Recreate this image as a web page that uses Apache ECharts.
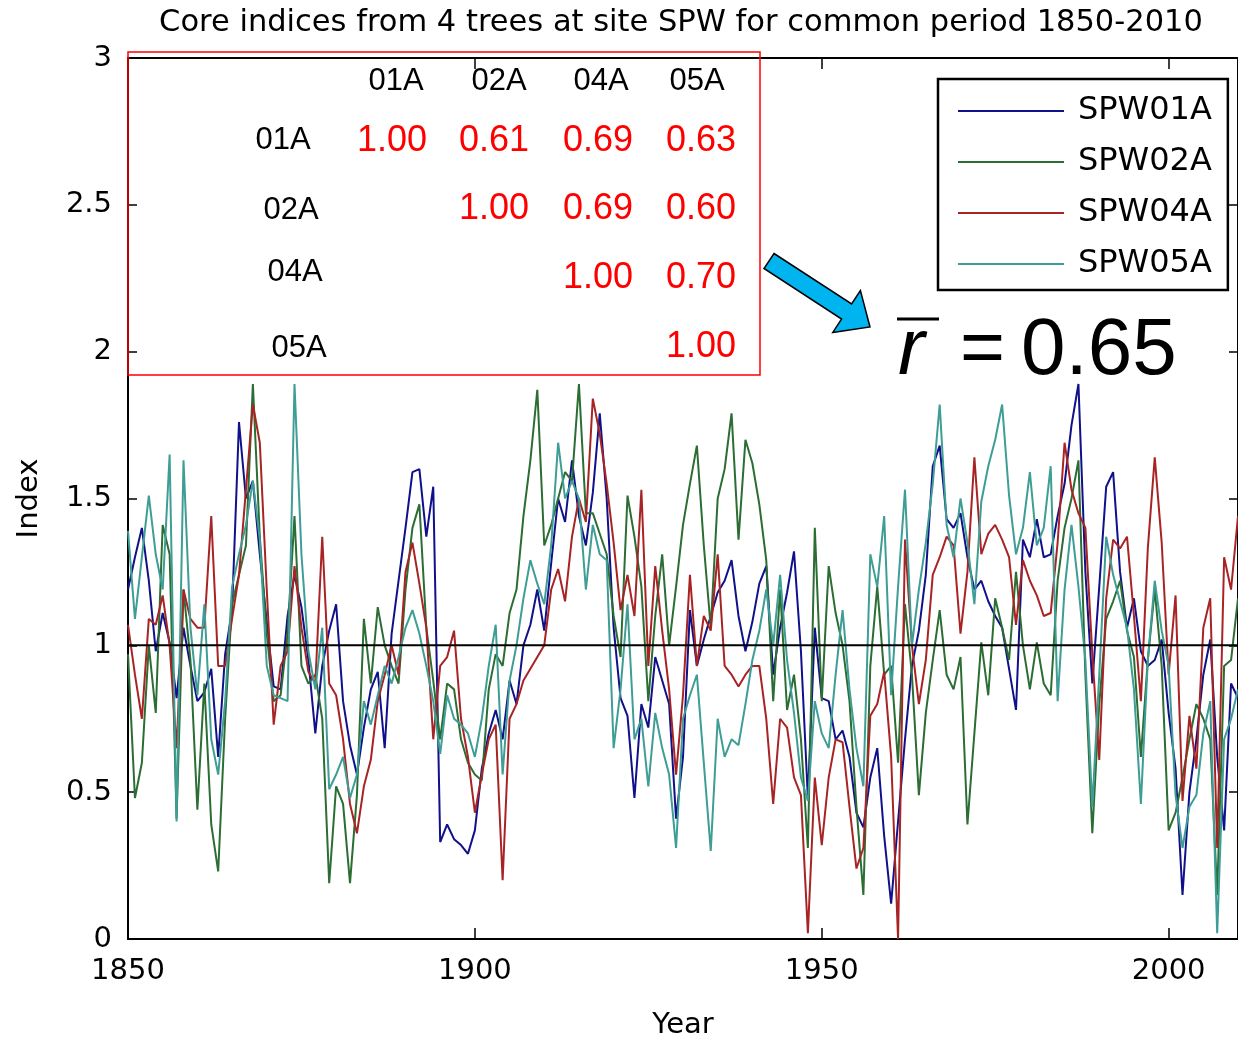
<!DOCTYPE html>
<html>
<head>
<meta charset="utf-8">
<script src="https://cdn.jsdelivr.net/npm/echarts@6/dist/echarts.min.js"></script>
<style>
  html, body { margin: 0; padding: 0; background: #ffffff; }
  #chart { width: 1238px; height: 1045px; }
</style>
</head>
<body>
<div id="chart"></div>
<script>
// Ring-width core indices, one value per year from 1850 to 2010
const firstYear = 1850;
const lastYear = 2010;
const seriesNames = ['SPW01A', 'SPW02A', 'SPW04A', 'SPW05A'];

const spw01a = [
  1.19, 1.30, 1.40, 1.22, 0.98, 1.11, 1.01, 0.82, 1.06, 0.93,
  0.81, 0.84, 0.92, 0.62, 0.97, 1.12, 1.76, 1.50, 1.56, 1.31,
  1.08, 0.86, 0.85, 1.10, 1.24, 1.13, 0.95, 0.70, 0.93, 1.05,
  1.14, 0.81, 0.66, 0.56, 0.72, 0.85, 0.91, 0.65, 1.04, 1.22,
  1.40, 1.59, 1.60, 1.37, 1.54, 0.33, 0.39, 0.34, 0.32, 0.29,
  0.37, 0.58, 0.70, 0.78, 0.68, 0.88, 0.80, 1.00, 1.07, 1.19,
  1.05, 1.28, 1.50, 1.42, 1.63, 1.44, 1.34, 1.52, 1.79, 1.50,
  1.06, 0.82, 0.76, 0.48, 0.80, 0.72, 0.96, 0.88, 0.80, 0.41,
  0.62, 1.12, 0.93, 1.02, 1.10, 1.18, 1.22, 1.29, 1.10, 0.98,
  1.08, 1.21, 1.27, 0.90, 1.06, 1.18, 1.32, 0.98, 0.48, 1.06,
  0.82, 0.81, 0.68, 0.71, 0.62, 0.43, 0.38, 0.55, 0.65, 0.35,
  0.12, 0.40, 0.68, 0.93, 1.05, 1.24, 1.61, 1.68, 1.43, 1.40,
  1.45, 1.30, 1.19, 1.22, 1.15, 1.10, 1.06, 0.92, 0.78, 1.36,
  1.30, 1.43, 1.30, 1.31, 1.44, 1.55, 1.75, 1.89, 1.25, 0.87,
  1.20, 1.54, 1.59, 1.25, 1.06, 1.16, 0.98, 0.93, 0.95, 1.02,
  0.77, 0.58, 0.15, 0.50, 0.68, 0.90, 1.02, 0.62, 0.37, 0.87,
  0.82
];

const spw02a = [
  0.97, 0.48, 0.60, 1.00, 0.77, 1.41, 1.31, 0.41, 1.19, 0.95,
  0.44, 0.87, 0.39, 0.23, 0.75, 1.14, 1.24, 1.34, 1.89, 1.37,
  1.04, 0.81, 0.83, 1.04, 1.44, 0.93, 0.87, 0.90, 0.75, 0.19,
  0.52, 0.46, 0.19, 0.49, 1.09, 0.87, 1.13, 1.00, 0.93, 0.87,
  1.19, 1.40, 1.48, 1.06, 0.88, 0.68, 0.87, 0.85, 0.68, 0.60,
  0.56, 0.54, 0.85, 0.97, 0.93, 1.11, 1.19, 1.44, 1.63, 1.87,
  1.34, 1.41, 1.50, 1.59, 1.56, 1.89, 1.45, 1.45, 1.38, 1.31,
  1.10, 0.96, 1.51, 1.37, 1.20, 0.81, 1.10, 1.31, 1.00, 1.20,
  1.41, 1.55, 1.68, 1.34, 1.06, 1.50, 1.60, 1.79, 1.36, 1.70,
  1.62, 1.48, 1.29, 0.81, 1.19, 0.78, 0.90, 0.68, 0.31, 1.40,
  0.81, 1.27, 1.11, 1.00, 0.81, 0.45, 0.15, 0.93, 1.20, 0.90,
  0.93, 0.60, 1.14, 0.90, 0.49, 0.77, 0.95, 1.12, 0.90, 0.85,
  0.96, 0.39, 0.70, 1.01, 0.83, 1.16, 1.06, 0.95, 1.25, 1.00,
  0.85, 1.01, 0.87, 0.83, 1.22, 1.40, 1.50, 1.63, 0.90, 0.36,
  0.80, 1.09, 1.15, 1.22, 1.05, 0.96, 0.62, 0.95, 1.19, 0.93,
  0.37, 0.43, 0.55, 0.68, 0.80, 0.75, 0.68, 0.15, 0.93, 0.95,
  1.16
];

const spw04a = [
  1.07, 0.90, 0.75, 1.09, 1.07, 1.17, 1.00, 0.65, 1.19, 1.09,
  1.06, 1.06, 1.44, 0.93, 0.93, 1.09, 1.24, 1.53, 1.82, 1.69,
  1.19, 0.73, 0.93, 0.98, 1.27, 1.06, 0.91, 0.87, 1.37, 0.87,
  0.83, 0.68, 0.46, 0.36, 0.52, 0.61, 0.81, 0.90, 1.00, 0.90,
  1.25, 1.35, 1.21, 1.06, 0.68, 0.93, 0.96, 1.05, 0.75, 0.62,
  0.43, 0.56, 0.68, 0.73, 0.20, 0.75, 0.80, 0.88, 0.92, 0.96,
  1.00, 1.19, 1.26, 1.15, 1.37, 1.50, 1.42, 1.84, 1.72, 1.55,
  1.35, 1.12, 1.24, 1.10, 1.53, 0.93, 1.27, 1.05, 0.85, 0.56,
  0.83, 1.24, 0.93, 1.10, 1.05, 1.31, 0.93, 0.90, 0.86, 0.90,
  0.93, 0.93, 0.75, 0.46, 0.75, 0.72, 0.55, 0.49, 0.02, 0.55,
  0.32, 0.55, 0.68, 0.67, 0.45, 0.24, 0.31, 0.76, 0.80, 0.91,
  0.62, 0.00, 1.36, 1.00, 0.80, 0.95, 1.24, 1.30, 1.37, 1.34,
  1.04, 1.25, 1.64, 1.31, 1.38, 1.41, 1.36, 1.30, 1.07, 1.29,
  1.22, 1.17, 1.10, 1.11, 1.35, 1.69, 1.53, 1.45, 1.40, 0.97,
  0.61, 1.16, 1.36, 1.33, 1.37, 1.10, 0.81, 1.33, 1.64, 1.35,
  0.90, 1.17, 0.47, 0.76, 0.58, 1.06, 1.16, 0.31, 1.30, 1.19,
  1.44
];

const spw05a = [
  1.39, 1.09, 1.30, 1.51, 1.31, 1.19, 1.65, 0.40, 1.63, 1.06,
  0.83, 1.14, 0.68, 0.56, 0.81, 1.20, 1.31, 1.41, 1.56, 1.36,
  0.93, 0.83, 0.82, 0.81, 1.89, 1.31, 0.98, 0.85, 1.06, 0.51,
  0.56, 0.62, 0.48, 0.56, 0.81, 0.73, 0.83, 0.93, 0.87, 0.96,
  1.06, 1.12, 1.04, 0.93, 0.81, 0.63, 0.83, 0.75, 0.73, 0.70,
  0.62, 0.75, 0.93, 1.07, 0.56, 0.88, 1.00, 1.16, 1.29, 1.21,
  1.14, 1.34, 1.69, 1.50, 1.56, 1.50, 1.19, 1.41, 1.31, 1.29,
  0.65, 0.85, 1.14, 0.68, 0.75, 0.52, 0.77, 0.65, 0.56, 0.31,
  0.75, 0.83, 0.90, 0.60, 0.30, 0.75, 0.62, 0.68, 0.66, 0.80,
  0.95, 1.05, 1.19, 1.00, 1.24, 0.95, 0.77, 0.55, 0.47, 0.81,
  0.70, 0.65, 0.90, 1.12, 0.85, 0.65, 0.52, 1.31, 1.20, 1.44,
  0.83, 1.20, 1.53, 1.00, 1.19, 1.35, 1.55, 1.82, 1.41, 1.30,
  1.50, 1.35, 1.14, 1.49, 1.61, 1.70, 1.82, 1.51, 1.31, 1.40,
  1.59, 1.34, 1.40, 1.61, 0.81, 1.19, 1.41, 1.20, 0.95, 0.45,
  0.90, 1.37, 1.24, 1.15, 1.06, 0.85, 0.46, 0.95, 1.22, 1.05,
  0.93, 0.49, 0.31, 0.45, 0.49, 0.70, 0.81, 0.02, 0.68, 0.75,
  0.85
];

// Axis ticks
const yearTickStep = 50;
const indexMin = 0, indexMax = 3, indexTickStep = 0.5;
const referenceIndex = 1;

// Inter-core correlation matrix (upper triangle) and its mean
const coreIds = ['01A', '02A', '04A', '05A'];
const corrRows = [
  [1.00, 0.61, 0.69, 0.63],
  [1.00, 0.69, 0.60],
  [1.00, 0.70],
  [1.00]
];
const meanR = 0.65;

const titleText = 'Core indices from 4 trees at site SPW for common period 1850-2010';

const lineColors = ['#10108a', '#2b6d33', '#a82424', '#3e9d95'];
const seriesValues = [spw01a, spw02a, spw04a, spw05a];

const years = [];
for (let y = firstYear; y <= lastYear; y++) years.push(y);

const tickFont = 'DejaVu Sans';

const lineSeries = seriesNames.map((name, i) => ({
  name: name,
  type: 'line',
  xAxisIndex: 0,
  yAxisIndex: 0,
  symbol: 'none',
  showSymbol: false,
  clip: true,
  data: years.map((yr, k) => [yr, seriesValues[i][k]]),
  lineStyle: { color: lineColors[i], width: 2 },
  itemStyle: { color: lineColors[i] },
  z: 2 + i
}));

lineSeries.push({
  name: 'reference',
  type: 'line',
  symbol: 'none',
  silent: true,
  data: [[firstYear, referenceIndex], [lastYear, referenceIndex]],
  lineStyle: { color: '#000000', width: 2 },
  z: 10
});

// Correlation table drawn as text inside a red frame
const tableGraphics = [];
tableGraphics.push({
  type: 'rect',
  shape: { x: 128, y: 52, width: 632, height: 323 },
  style: { fill: 'none', stroke: '#ff0000', lineWidth: 1.5 },
  z: 100
});
const headerX = [396, 499, 601, 697];
const valueX = [392, 494, 598, 701];
const rowLabelX = [283, 291, 295, 299];
const rowLabelY = [139, 209, 271, 347];
const rowValueY = [140, 208, 277, 346];
coreIds.forEach((id, c) => {
  tableGraphics.push({
    type: 'text', z: 100,
    style: { text: id, x: headerX[c], y: 81, align: 'center', verticalAlign: 'middle',
             fontFamily: 'Liberation Sans', fontSize: 31, fill: '#000000' }
  });
});
corrRows.forEach((row, r) => {
  tableGraphics.push({
    type: 'text', z: 100,
    style: { text: coreIds[r], x: rowLabelX[r], y: rowLabelY[r] + 1, align: 'center', verticalAlign: 'middle',
             fontFamily: 'Liberation Sans', fontSize: 31, fill: '#000000' }
  });
  row.forEach((v, j) => {
    const col = r + j;
    tableGraphics.push({
      type: 'text', z: 100,
      style: { text: v.toFixed(2), x: valueX[col], y: rowValueY[r] + 1, align: 'center', verticalAlign: 'middle',
               fontFamily: 'Liberation Sans', fontSize: 36, fill: '#ff0000' }
    });
  });
});

// Arrow pointing at the mean correlation
const arrowGraphic = {
  type: 'polygon', z: 100,
  shape: { points: [[774, 253.5], [851.6, 304], [860.4, 290.6], [870, 327], [832.8, 332.4], [841.6, 319], [764, 268.5]] },
  style: { fill: '#00b4f0', stroke: '#000000', lineWidth: 1.5 }
};

const meanGraphics = [
  { type: 'text', z: 100,
    style: { text: 'r', x: 898, y: 352, align: 'left', verticalAlign: 'middle',
             fontFamily: 'Liberation Sans', fontStyle: 'italic', fontSize: 80, fill: '#000000' } },
  { type: 'line', z: 100,
    shape: { x1: 897, y1: 319, x2: 939, y2: 319 },
    style: { stroke: '#000000', lineWidth: 3 } },
  { type: 'text', z: 100,
    style: { text: '=', x: 960, y: 352, align: 'left', verticalAlign: 'middle',
             fontFamily: 'Liberation Sans', fontSize: 77, fill: '#000000' } },
  { type: 'text', z: 100,
    style: { text: meanR.toFixed(2), x: 1021, y: 352, align: 'left', verticalAlign: 'middle',
             fontFamily: 'Liberation Sans', fontSize: 80, fill: '#000000' } }
];

const axisLineStyle = { show: true, onZero: false, lineStyle: { color: '#000000', width: 2 } };

const chart = echarts.init(document.getElementById('chart'), null, { renderer: 'canvas' });
chart.setOption({
  animation: false,
  backgroundColor: '#ffffff',
  title: {
    text: titleText,
    left: 681,
    top: 8,
    padding: 0,
    textAlign: 'center',
    textStyle: { fontFamily: tickFont, fontSize: 30.5, fontWeight: 'normal', color: '#000000' }
  },
  grid: { left: 128, top: 58, width: 1111, height: 887, containLabel: false },
  legend: {
    data: seriesNames,
    icon: 'rect',
    orient: 'vertical',
    left: 938,
    top: 79,
    padding: [12, 16, 6, 20],
    itemWidth: 106,
    itemHeight: 2,
    itemGap: 11,
    borderColor: '#000000',
    borderWidth: 2.5,
    backgroundColor: '#ffffff',
    textStyle: { fontFamily: tickFont, fontSize: 32, color: '#000000', lineHeight: 40, padding: [0, 0, 0, 9] },
    z: 50
  },
  xAxis: [
    {
      type: 'value', position: 'bottom',
      min: firstYear, max: lastYear, interval: yearTickStep,
      axisLine: axisLineStyle,
      axisTick: { show: true, inside: true, length: 11, lineStyle: { color: '#000000', width: 1.5 } },
      axisLabel: { color: '#000000', fontFamily: tickFont, fontSize: 29, margin: 18, showMaxLabel: false,
                   formatter: (v) => String(v) },
      splitLine: { show: false },
      name: 'Year', nameLocation: 'middle', nameGap: 72,
      nameTextStyle: { fontFamily: tickFont, fontSize: 29, color: '#000000' }
    },
    {
      type: 'value', position: 'top',
      min: firstYear, max: lastYear, interval: yearTickStep,
      axisLine: axisLineStyle,
      axisTick: { show: true, inside: true, length: 11, lineStyle: { color: '#000000', width: 1.5 } },
      axisLabel: { show: false },
      splitLine: { show: false }
    }
  ],
  yAxis: [
    {
      type: 'value', position: 'left',
      min: indexMin, max: indexMax, interval: indexTickStep,
      axisLine: axisLineStyle,
      axisTick: { show: true, inside: true, length: 9, lineStyle: { color: '#000000', width: 1.5 } },
      axisLabel: { color: '#000000', fontFamily: tickFont, fontSize: 29, margin: 16 },
      splitLine: { show: false },
      name: 'Index', nameLocation: 'middle', nameGap: 84, nameRotate: 90,
      nameTextStyle: { fontFamily: tickFont, fontSize: 29, color: '#000000' }
    },
    {
      type: 'value', position: 'right',
      min: indexMin, max: indexMax, interval: indexTickStep,
      axisLine: axisLineStyle,
      axisTick: { show: true, inside: true, length: 9, lineStyle: { color: '#000000', width: 1.5 } },
      axisLabel: { show: false },
      splitLine: { show: false }
    }
  ],
  series: lineSeries,
  graphic: tableGraphics.concat([arrowGraphic]).concat(meanGraphics)
});
</script>
</body>
</html>
